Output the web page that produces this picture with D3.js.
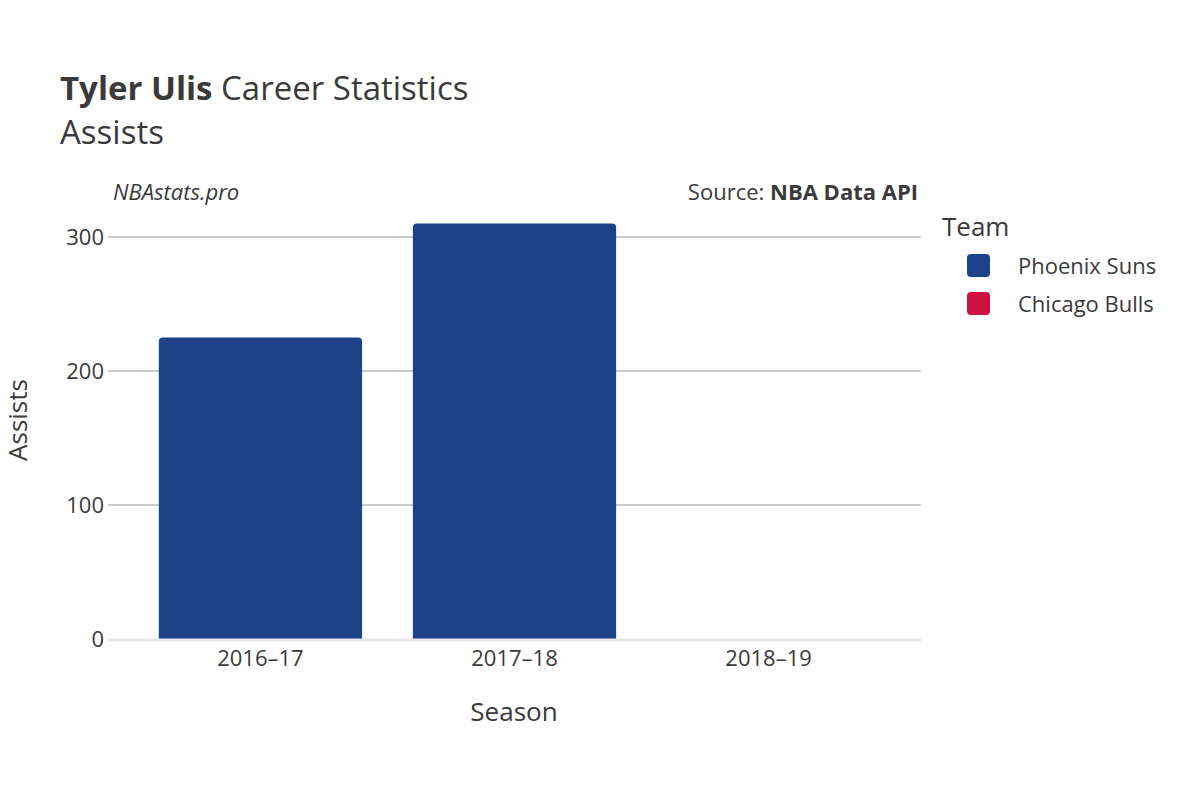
<!DOCTYPE html>
<html><head><meta charset="utf-8">
<script src="https://cdn.jsdelivr.net/npm/d3@7"></script>
<style>body{margin:0;background:#fff;font-family:"Open Sans","DejaVu Sans",sans-serif;}</style>
</head><body><svg id="c" width="1200" height="800"></svg>
<script>
const seasons = ['2016–17', '2017–18', '2018–19'];
const teams = ['Phoenix Suns', 'Chicago Bulls'];
const teamColors = ['#1d428a', '#ce1141'];
// assists per season, one entry per team
const assists = [
    {season: '2016–17', team: 'Phoenix Suns', value: 225},
    {season: '2017–18', team: 'Phoenix Suns', value: 310},
    {season: '2018–19', team: 'Chicago Bulls', value: 0}
];
const yTicks = [0, 100, 200, 300];

const svg = d3.select('#c');
const m = {left: 108, right: 921, top: 237 - 402 * 0 , bottom: 639};
const x = d3.scaleBand().domain(seasons).range([108, 921]).padding(0.2);
const y = d3.scaleLinear().domain([0, 300]).range([639, 237]);
const color = d3.scaleOrdinal().domain(teams).range(teamColors);
const txt = '#3a3a3a';

svg.append('g').selectAll('line').data(yTicks.filter(d => d > 0)).join('line')
    .attr('x1', 108).attr('x2', 921).attr('y1', d => y(d)).attr('y2', d => y(d))
    .attr('stroke', '#999').attr('stroke-width', 1);
svg.append('g').selectAll('text').data(yTicks).join('text')
    .attr('x', 104).attr('y', d => y(d) + 8).attr('text-anchor', 'end')
    .attr('font-size', 22).attr('fill', txt).text(d => d);

svg.append('g').selectAll('path').data(assists.filter(d => d.value > 0)).join('path')
    .attr('fill', d => color(d.team))
    .attr('d', d => {
        const x0 = x(d.season), w = x.bandwidth(), y0 = y(d.value), r = 4;
        return `M${x0},639V${y0 + r}Q${x0},${y0} ${x0 + r},${y0}H${x0 + w - r}Q${x0 + w},${y0} ${x0 + w},${y0 + r}V639Z`;
    });
svg.append('line').attr('x1', 108).attr('x2', 921).attr('y1', 640).attr('y2', 640)
    .attr('stroke', '#e8e8ea').attr('stroke-width', 3);

svg.append('g').selectAll('text').data(seasons).join('text')
    .attr('x', d => x(d) + x.bandwidth() / 2).attr('y', 666).attr('text-anchor', 'middle')
    .attr('font-size', 22).attr('fill', txt).text(d => d);

svg.append('text').attr('x', 514).attr('y', 721).attr('text-anchor', 'middle')
    .attr('font-size', 26).attr('fill', txt).text('Season');
svg.append('text').attr('transform', 'translate(27,420) rotate(-90)').attr('text-anchor', 'middle')
    .attr('font-size', 26).attr('fill', txt).text('Assists');

const title = svg.append('text').attr('x', 60).attr('y', 100).attr('font-size', 33).attr('fill', txt);
title.append('tspan').attr('font-weight', 'bold').text('Tyler Ulis');
title.append('tspan').text(' Career Statistics');
svg.append('text').attr('x', 60).attr('y', 144).attr('font-size', 33).attr('fill', txt).text('Assists');

svg.append('text').attr('x', 113).attr('y', 200).attr('font-size', 22).attr('font-style', 'italic')
    .attr('fill', txt).text('NBAstats.pro');
const src = svg.append('text').attr('x', 918).attr('y', 200).attr('text-anchor', 'end')
    .attr('font-size', 22).attr('fill', txt);
src.append('tspan').text('Source: ');
src.append('tspan').attr('font-weight', 'bold').text('NBA Data API');

svg.append('text').attr('x', 942).attr('y', 236).attr('font-size', 26).attr('fill', txt).text('Team');
const leg = svg.append('g').selectAll('g').data(teams).join('g')
    .attr('transform', (d, i) => `translate(967,${254 + i * 38})`);
leg.append('rect').attr('width', 23).attr('height', 23).attr('rx', 4).attr('fill', d => color(d));
leg.append('text').attr('x', 51).attr('y', 20).attr('font-size', 22).attr('fill', txt).text(d => d);
</script></body></html>
